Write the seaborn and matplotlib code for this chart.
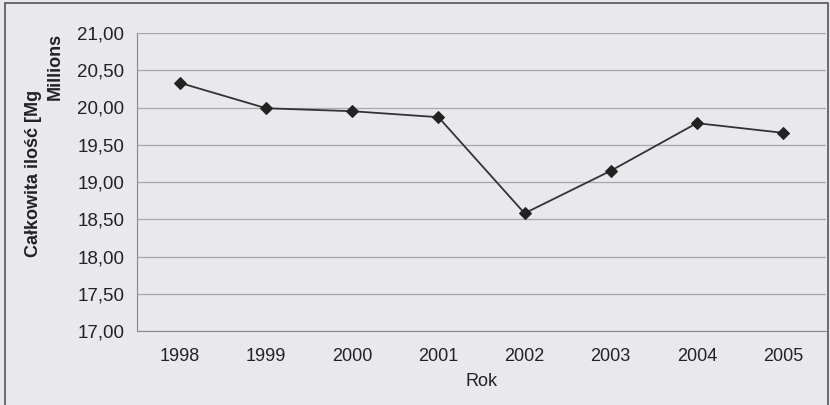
import matplotlib
matplotlib.use("Agg")
import matplotlib.pyplot as plt
import matplotlib.ticker as mticker
from matplotlib.patches import Rectangle
import seaborn as sns
import pandas as pd

years = ["1998", "1999", "2000", "2001", "2002", "2003", "2004", "2005"]
amount = [20.33, 19.99, 19.95, 19.87, 18.58, 19.15, 19.79, 19.66]

df = pd.DataFrame({"idx": range(len(years)), "val": amount})

sns.set_style("white")
plt.rcParams['font.family'] = ['Liberation Sans', 'DejaVu Sans']

bg = "#e9e9ed"
fig = plt.figure(figsize=(8.3, 4.05), dpi=100, facecolor=bg)
ax = fig.add_axes([137/830, 1 - 331/405, (826-137)/830, (331-33)/405])
ax.set_facecolor(bg)

sns.lineplot(data=df, x="idx", y="val", ax=ax, color="#333333", lw=1.3,
             marker="D", markersize=6, markeredgecolor="#222222",
             markerfacecolor="#222222")

ax.set_xlim(-0.5, len(years) - 0.5)
ax.set_ylim(17, 21)
ax.set_yticks([17 + 0.5 * i for i in range(9)])
ax.yaxis.set_major_formatter(mticker.FuncFormatter(lambda v, p: f"{v:.2f}".replace(".", ",")))
ax.set_xticks(range(len(years)))
ax.set_xticklabels(years)
ax.grid(axis="y", color="#a8a8a8", lw=0.9)
for s in ["top", "right"]:
    ax.spines[s].set_visible(False)
ax.spines["left"].set_color("#888888")
ax.spines["bottom"].set_color("#888888")
ax.tick_params(axis="y", length=5, color="#888888", labelsize=13.5, labelcolor="#222222", pad=4)
ax.tick_params(axis="x", length=0, labelsize=13, labelcolor="#222222", pad=12)

ax.set_xlabel("Rok", fontsize=13, color="#222222", labelpad=6)
ax.set_ylabel("")
fig.text(33/830, 1 - 173/405, "Całkowita ilość [Mg", rotation=90, fontsize=13,
         fontweight="bold", color="#222222", ha="center", va="center")
fig.text(55/830, 1 - 66/405, "Millions", rotation=90, fontsize=13,
         fontweight="bold", color="#222222", ha="center", va="center")

fig.patches.append(Rectangle((5/830, -0.1), (823)/830, 1.1 - 3/405, transform=fig.transFigure,
                             fill=False, edgecolor="#555555", lw=1.2))

fig.savefig("out.png", dpi=100, facecolor=bg)
